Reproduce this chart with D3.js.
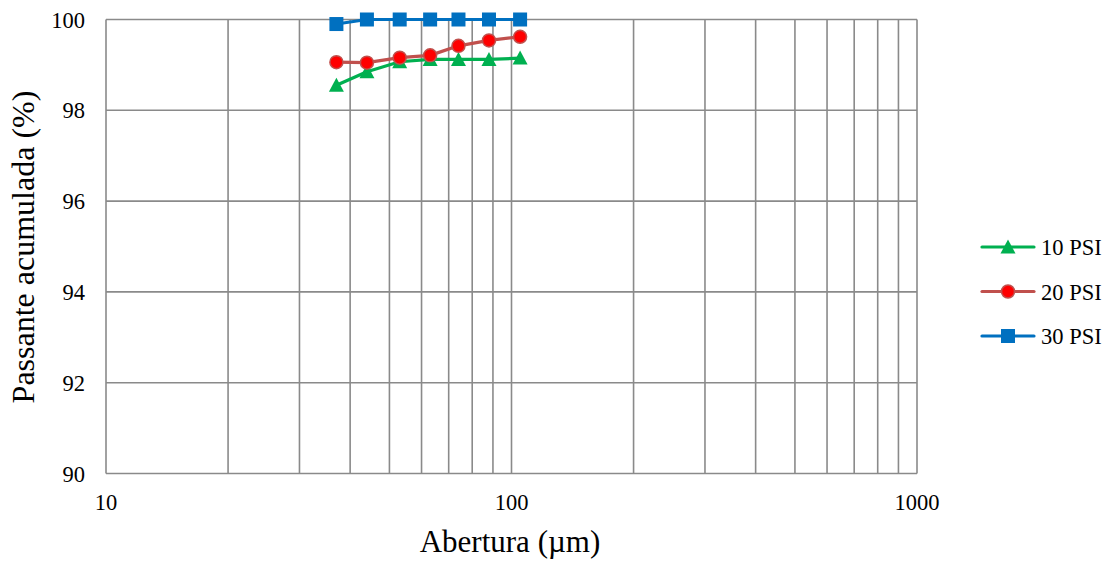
<!DOCTYPE html>
<html lang="pt">
<head>
<meta charset="UTF-8">
<title>Passante acumulada</title>
<script src="https://d3js.org/d3.v7.min.js"></script>
<style>
  body { margin: 0; background: #fff; }
  svg, svg text { font-family: "Liberation Serif", serif; }
  .grid { stroke: #8a8a8a; stroke-width: 1.6; fill: none; }
</style>
</head>
<body>
<svg width="1112" height="561"></svg>
<script>
// sieve openings (µm) and cumulative passing (%)
var aberturas = [37, 44, 53, 63, 74, 88, 105];
var psi10 = [98.55, 98.85, 99.07, 99.12, 99.12, 99.12, 99.15];
var psi20 = [99.06, 99.05, 99.16, 99.21, 99.42, 99.54, 99.62];
var psi30 = [99.9, 100, 100, 100, 100, 100, 100];
var seriesNames = ["10 PSI", "20 PSI", "30 PSI"];
var yTicks = [90, 92, 94, 96, 98, 100];
var xTicks = [10, 100, 1000];

var FONT = "'Liberation Serif', serif";
var svg = d3.select("svg");
var x = d3.scaleLog().domain([10, 1000]).range([106, 917]);
var y = d3.scaleLinear().domain([90, 100]).range([473.5, 19.5]);

var styles = [
    {line: "#00B050", fill: "#00B050", stroke: "#00B050", shape: "tri"},
    {line: "#C0504D", fill: "#FF0000", stroke: "#C0504D", shape: "circle"},
    {line: "#0070C0", fill: "#0070C0", stroke: "#0070C0", shape: "square"}
];
var series = [psi10, psi20, psi30];

// grid: vertical log lines
var vLines = [];
for (var d = 10; d < 1000; d *= 10) {
    for (var k = 1; k <= 10; k++) vLines.push(d * k);
}
vLines = Array.from(new Set(vLines));
svg.append("g").selectAll("line").data(vLines).enter().append("line")
    .attr("class", "grid")
    .attr("x1", function(v){ return x(v); }).attr("x2", function(v){ return x(v); })
    .attr("y1", y(90)).attr("y2", y(100));
svg.append("g").selectAll("line").data(yTicks).enter().append("line")
    .attr("class", "grid")
    .attr("x1", x(10)).attr("x2", x(1000))
    .attr("y1", function(v){ return y(v); }).attr("y2", function(v){ return y(v); });

// tick labels
svg.append("g").selectAll("text").data(yTicks).enter().append("text")
    .attr("x", 85).attr("y", function(v){ return y(v) + 8; })
    .attr("text-anchor", "end")
    .attr("font-family", FONT).attr("font-size", 22.5)
    .text(function(v){ return v; });
svg.append("g").selectAll("text").data(xTicks).enter().append("text")
    .attr("x", function(v){ return x(v); }).attr("y", 510)
    .attr("text-anchor", "middle")
    .attr("font-family", FONT).attr("font-size", 22.5)
    .text(function(v){ return v; });

// axis titles
svg.append("text").attr("x", 510).attr("y", 552)
    .attr("text-anchor", "middle")
    .attr("font-family", FONT).attr("font-size", 31)
    .text("Abertura (µm)");
svg.append("text").attr("transform", "translate(34,247) rotate(-90)")
    .attr("text-anchor", "middle")
    .attr("font-family", FONT).attr("font-size", 32)
    .text("Passante acumulada (%)");

function marker(sel, st) {
    if (st.shape === "tri") {
        sel.append("path")
            .attr("d", "M0,-7.5L7.5,6.5L-7.5,6.5Z")
            .attr("fill", st.fill);
    } else if (st.shape === "circle") {
        sel.append("circle").attr("r", 6.5)
            .attr("fill", st.fill).attr("stroke", st.stroke).attr("stroke-width", 1.5);
    } else {
        sel.append("rect").attr("x", -7).attr("y", -7).attr("width", 14).attr("height", 14)
            .attr("fill", st.fill);
    }
}

var line = d3.line()
    .x(function(d){ return x(d[0]); })
    .y(function(d){ return y(d[1]); });

series.forEach(function(vals, i) {
    var st = styles[i];
    var pts = aberturas.map(function(a, j){ return [a, vals[j]]; });
    svg.append("path").datum(pts)
        .attr("d", line).attr("fill", "none")
        .attr("stroke", st.line).attr("stroke-width", 3.2)
        .attr("stroke-linejoin", "round");
    svg.append("g").selectAll("g").data(pts).enter().append("g")
        .attr("transform", function(d){ return "translate(" + x(d[0]) + "," + y(d[1]) + ")"; })
        .each(function(){ marker(d3.select(this), st); });
});

// legend
var legY = [247, 291.5, 336];
seriesNames.forEach(function(name, i) {
    var st = styles[i];
    var g = svg.append("g").attr("transform", "translate(0," + legY[i] + ")");
    g.append("line").attr("x1", 982).attr("x2", 1034).attr("y1", 0).attr("y2", 0)
        .attr("stroke", st.line).attr("stroke-width", 3.2).attr("stroke-linecap", "round");
    var m = g.append("g").attr("transform", "translate(1008,0)");
    marker(m, st);
    g.append("text").attr("x", 1041).attr("y", 8)
        .attr("font-family", FONT).attr("font-size", 22.5)
        .text(name);
});
</script>
</body>
</html>
